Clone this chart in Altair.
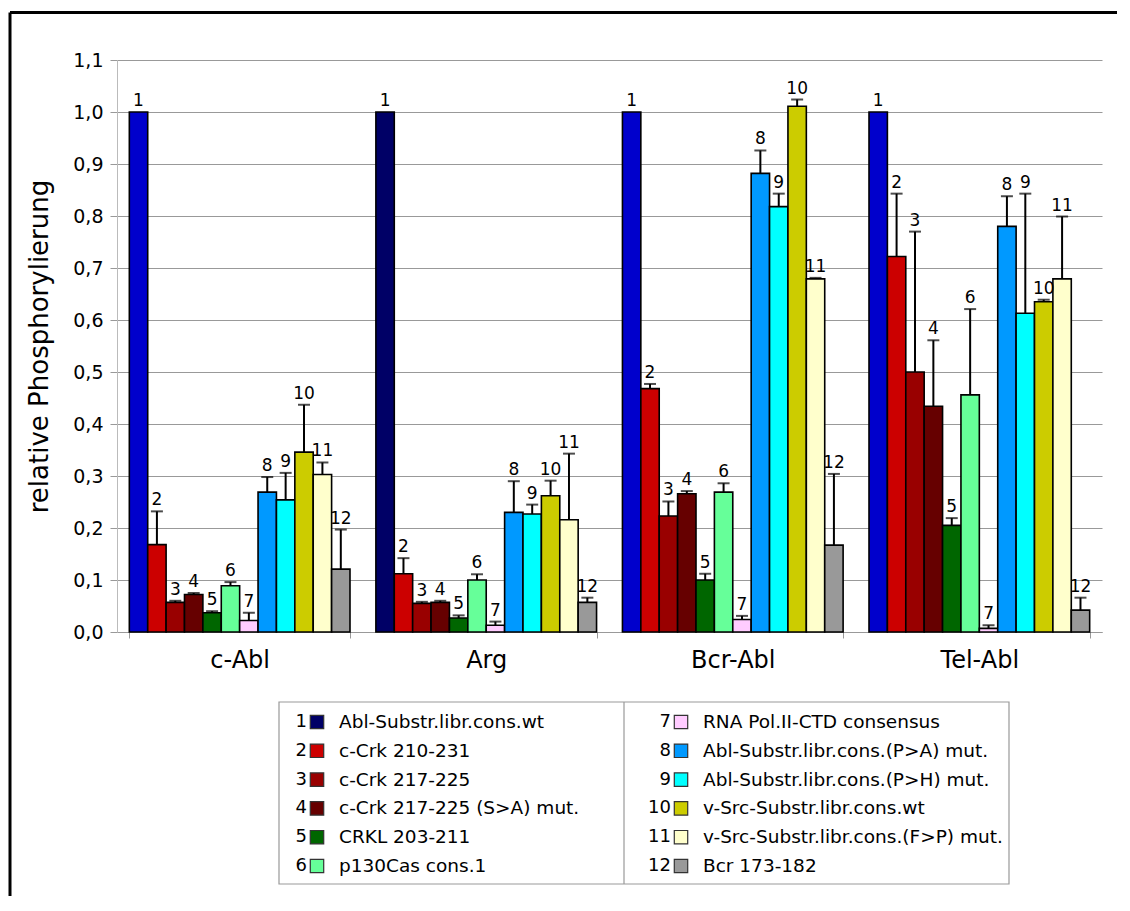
import altair as alt
import pandas as pd

# ---------------- data ----------------
groups = ["c-Abl", "Arg", "Bcr-Abl", "Tel-Abl"]
series_ids = list(range(1, 13))
series_labels = [
    "Abl-Substr.libr.cons.wt",
    "c-Crk 210-231",
    "c-Crk 217-225",
    "c-Crk 217-225 (S>A) mut.",
    "CRKL 203-211",
    "p130Cas cons.1",
    "RNA Pol.II-CTD consensus",
    "Abl-Substr.libr.cons.(P>A) mut.",
    "Abl-Substr.libr.cons.(P>H) mut.",
    "v-Src-Substr.libr.cons.wt",
    "v-Src-Substr.libr.cons.(F>P) mut.",
    "Bcr 173-182",
]
series_colors = ["#000066", "#CC0000", "#990000", "#660000", "#006600", "#66FF99",
                 "#FFCCFF", "#0099FF", "#00FFFF", "#CCCC00", "#FFFFCC", "#999999"]
first_bar_colors = ["#0000CC", "#000066", "#0000CC", "#0000CC"]

val_cabl = [1.0, 0.168, 0.057, 0.072, 0.037, 0.089, 0.022, 0.269, 0.254, 0.346, 0.303, 0.121]
err_cabl = [0.0, 0.064, 0.003, 0.003, 0.003, 0.007, 0.015, 0.029, 0.052, 0.091, 0.023, 0.076]
val_arg = [1.0, 0.112, 0.055, 0.057, 0.027, 0.100, 0.013, 0.230, 0.227, 0.262, 0.216, 0.057]
err_arg = [0.0, 0.030, 0.003, 0.003, 0.005, 0.011, 0.007, 0.060, 0.018, 0.029, 0.127, 0.009]
val_bcr = [1.0, 0.468, 0.223, 0.266, 0.100, 0.269, 0.024, 0.882, 0.818, 1.011, 0.679, 0.167]
err_bcr = [0.0, 0.009, 0.028, 0.005, 0.012, 0.017, 0.007, 0.044, 0.025, 0.013, 0.002, 0.137]
val_tel = [1.0, 0.722, 0.500, 0.434, 0.205, 0.456, 0.007, 0.780, 0.613, 0.635, 0.679, 0.042]
err_tel = [0.0, 0.121, 0.270, 0.127, 0.014, 0.165, 0.006, 0.058, 0.230, 0.004, 0.120, 0.024]

y_ticks = [round(i * 0.1, 1) for i in range(12)]

# ---------------- tables ----------------
all_vals = [val_cabl, val_arg, val_bcr, val_tel]
all_errs = [err_cabl, err_arg, err_bcr, err_tel]
rows = []
for gi, g in enumerate(groups):
    for si, sid in enumerate(series_ids):
        v = all_vals[gi][si]
        e = all_errs[gi][si]
        color = first_bar_colors[gi] if sid == 1 else series_colors[si]
        rows.append({"group": g, "sid": sid, "value": v, "err": e,
                     "upper": v + e, "fill": color})
df = pd.DataFrame(rows)

leg = pd.DataFrame({
    "sid": series_ids,
    "label": series_labels,
    "fill": series_colors,
    "col": [(i - 1) // 6 for i in series_ids],
    "row": [(i - 1) % 6 for i in series_ids],
})

FONT = "DejaVu Sans"
W, H = 985, 572

# ---------------- bar chart ----------------
x_enc = alt.X("group:N", sort=groups,
              scale=alt.Scale(paddingInner=0.105, paddingOuter=0.05),
              axis=alt.Axis(title=None, labelFontSize=24, labelColor="black",
                            labelPadding=10, labelAngle=0, tickSize=6,
                            tickBand="extent", domainColor="#999999",
                            tickColor="#999999", labelFont=FONT))
xo_enc = alt.XOffset("sid:O", scale=alt.Scale(paddingInner=0, paddingOuter=0))
y_axis = alt.Axis(title="relative Phosphorylierung", titleFontSize=26,
                  titleFontWeight="normal", titleColor="black", titlePadding=20,
                  titleFont=FONT, labelFont=FONT,
                  labelFontSize=19, labelColor="black", labelPadding=7,
                  tickSize=7, tickColor="#999999", domainColor="#bbbbbb",
                  gridColor="#999999", gridWidth=1.2, values=y_ticks,
                  format=".1f", labelExpr="replace(datum.label, '.', ',')")
y_scale = alt.Scale(domain=[0, 1.1], nice=False)

base = alt.Chart(df)
bars = base.mark_bar(stroke="black", strokeWidth=1.6).encode(
    x=x_enc, xOffset=xo_enc,
    y=alt.Y("value:Q", scale=y_scale, axis=y_axis),
    fill=alt.Fill("fill:N", scale=None),
)
err_rule = base.transform_filter("datum.err > 0").mark_rule(
    color="black", strokeWidth=2).encode(
    x=x_enc, xOffset=xo_enc, y="value:Q", y2="upper:Q")
err_tick = base.transform_filter("datum.err > 0").mark_tick(
    color="black", size=12, thickness=2).encode(
    x=x_enc, xOffset=xo_enc, y="upper:Q")
nums = base.mark_text(baseline="bottom", dy=-2, fontSize=17, font=FONT,
                      color="black").encode(
    x=x_enc, xOffset=xo_enc, y="upper:Q", text="sid:N")

plot = alt.layer(bars, err_rule, err_tick, nums)

# ---------------- legend ----------------
box_df = pd.DataFrame({"k": [0]})
box = alt.Chart(box_df).mark_rect(fill=None, stroke="#999999", strokeWidth=1.2).encode(
    x=alt.value(162), x2=alt.value(892), y=alt.value(642), y2=alt.value(824))
divider = alt.Chart(box_df).mark_rule(color="#999999", strokeWidth=1.2).encode(
    x=alt.value(507), y=alt.value(642), y2=alt.value(824))

lx = alt.X("col:Q", scale=alt.Scale(domain=[0, 1], range=[200, 564]), axis=None)
ly = alt.Y("row:Q", scale=alt.Scale(domain=[0, 5], range=[662, 806]), axis=None)
lbase = alt.Chart(leg)
swatch = lbase.mark_square(size=180, stroke="#333333", strokeWidth=1.2, opacity=1).encode(
    x=lx, y=ly, fill=alt.Fill("fill:N", scale=None))
lnum = lbase.mark_text(align="right", baseline="middle", dx=-10, fontSize=18,
                       font=FONT, color="black").encode(x=lx, y=ly, text="sid:N")
ltxt = lbase.mark_text(align="left", baseline="middle", dx=22, fontSize=18.5,
                       font=FONT, color="black").encode(x=lx, y=ly, text="label:N")
legend = alt.layer(box, divider, swatch, lnum, ltxt)

# ---------------- outer frame ----------------
left_line = alt.Chart(box_df).mark_rule(color="black", strokeWidth=3).encode(
    x=alt.value(-107), y=alt.value(-47.5), y2=alt.value(836))
top_line = alt.Chart(box_df).mark_rule(color="black", strokeWidth=3).encode(
    x=alt.value(-107), x2=alt.value(1000), y=alt.value(-47.5))
frame = alt.layer(left_line, top_line)

chart = alt.layer(plot, legend, frame).resolve_scale(
    x="independent", y="independent"
).properties(
    width=W, height=H,
    padding={"left": 0, "top": 3, "right": 0, "bottom": 0},
).configure_view(stroke=None)

chart.save("out.html", embed_options={"renderer": "svg", "actions": False})
